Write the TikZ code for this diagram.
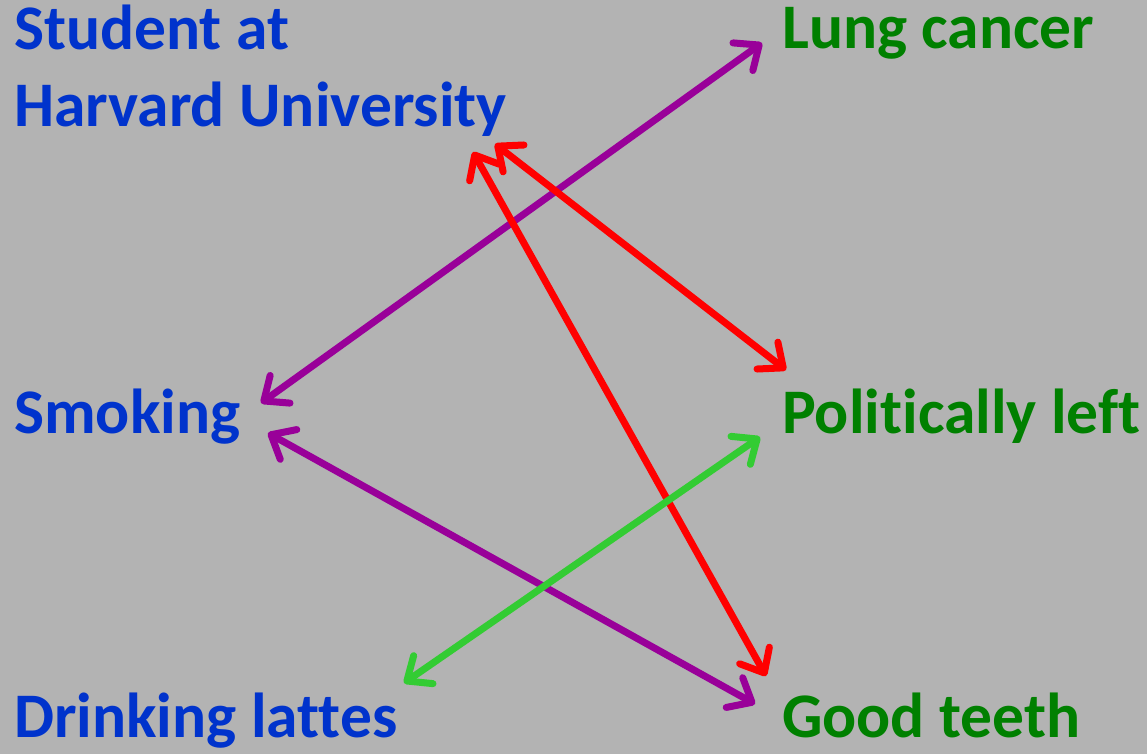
\documentclass[tikz,border=0pt]{standalone}
\usepackage{fontspec}
\setmainfont[Ligatures=NoCommon]{Carlito}
\usetikzlibrary{arrows.meta}
\definecolor{bg}{HTML}{B3B3B3}
\definecolor{tblue}{HTML}{0033CC}
\definecolor{tgreen}{HTML}{008000}
\definecolor{lpurple}{HTML}{990099}
\definecolor{lred}{HTML}{FF0000}
\definecolor{lgreen}{HTML}{33CC33}
\tikzset{
  lbl/.style={anchor=base west, inner sep=0pt, font=\fontsize{63.5}{77}\selectfont\bfseries},
  cause/.style={lbl, text=tblue},
  effect/.style={lbl, text=tgreen},
  barb/.tip={Straight Barb[length=20pt,width=34pt,line cap=round,line join=round]},
  link/.style={line width=7pt, line cap=round, barb-barb},
}
\begin{document}
\begin{tikzpicture}[x=1pt,y=-1pt]
\fill[bg] (0,0) rectangle (1147,754);
\useasboundingbox (0,0) rectangle (1147,754);
\node[cause, align=left] (harvard) at (14,127) {Student at\\Harvard University};
\node[cause] (smoking) at (14,433) {Smoking};
\node[cause] (lattes) at (14,737) {Drinking lattes};
\node[effect] (lung) at (782,49) {Lung cancer};
\node[effect] (left) at (782,433) {Politically left};
\node[effect] (teeth) at (782,737) {Good teeth};
\coordinate (hA) at (495,144);
\coordinate (hB) at (473,152);
\coordinate (sA) at (261,403);
\coordinate (sB) at (268,433);
\coordinate (dA) at (404,683);
\coordinate (lA) at (762,43);
\coordinate (pA) at (786,370);
\coordinate (pB) at (760,437);
\coordinate (gA) at (766,676);
\coordinate (gB) at (755,704);
\draw[link, lpurple] (lA) -- (sA);
\draw[link, lpurple] (sB) -- (gB);
\draw[link, lred] (hA) -- (pA);
\draw[link, lred] (hB) -- (gA);
\draw[link, lgreen] (pB) -- (dA);
\end{tikzpicture}
\end{document}
